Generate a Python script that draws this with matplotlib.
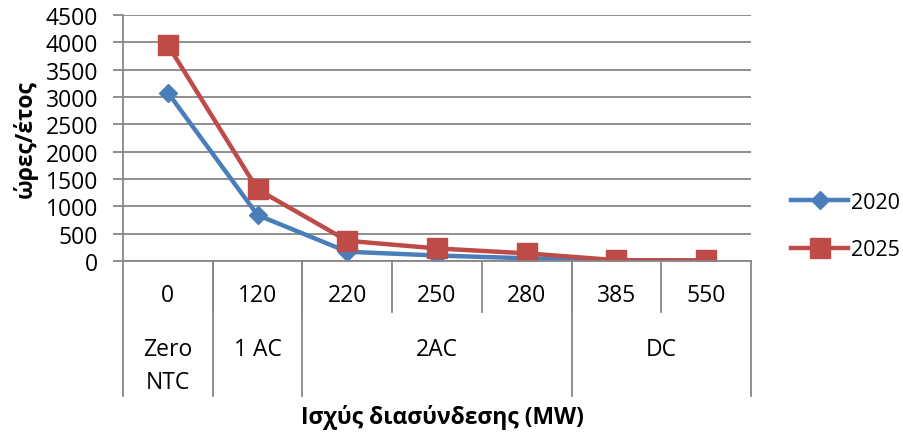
import matplotlib.pyplot as plt
from matplotlib import transforms

plt.rcParams['font.family'] = ['Open Sans', 'DejaVu Sans']

# data
capacities = ['0', '120', '220', '250', '280', '385', '550']
groups = ['Zero\nNTC', '1 AC', '2AC', 'DC']
group_spans = [(0, 0), (1, 1), (2, 4), (5, 6)]
hours_2020 = [3080, 840, 170, 100, 50, 10, 5]
hours_2025 = [3950, 1310, 370, 230, 140, 15, 10]

grid_col = '#878787'
fs = 16.5

fig = plt.figure(figsize=(9.04, 4.35), dpi=100)
ax = fig.add_axes([123 / 904, 1 - 262 / 435, (751 - 123) / 904, (262 - 16) / 435])

x = list(range(len(capacities)))
ax.plot(x, hours_2020, color='#4A7EBB', lw=3.2, marker='D', ms=9.5, label='2020')
ax.plot(x, hours_2025, color='#BE4B48', lw=3.2, marker='s', ms=14, label='2025')

ax.set_xlim(-0.5, len(capacities) - 0.5)
ax.set_ylim(0, 4500)
ax.set_yticks(range(0, 4501, 500))
ax.yaxis.grid(True, color=grid_col, lw=1.3)
ax.set_axisbelow(True)
ax.tick_params(axis='y', length=7, width=1.3, color=grid_col, labelsize=fs, pad=11)
ax.set_xticks([])
for s in ['top', 'right']:
    ax.spines[s].set_visible(False)
for s in ['left', 'bottom']:
    ax.spines[s].set_color(grid_col)
    ax.spines[s].set_linewidth(1.3)

fig.text(25 / 904, 1 - 139 / 435, 'ώρες/έτος', rotation=90, ha='center', va='center',
         fontsize=fs, fontweight='bold')

# multi-level category axis
trans = transforms.blended_transform_factory(ax.transData, ax.transAxes)
h = 246.0


def ay(py):
    return -(py - 262) / h


for i, c in enumerate(capacities):
    ax.text(i, ay(296), c, transform=trans, ha='center', va='center', fontsize=fs)
for b in range(1, len(capacities)):
    ax.plot([b - 0.5, b - 0.5], [0, ay(313)], transform=trans, color=grid_col, lw=1.3, clip_on=False)
edges = sorted({-0.5, len(capacities) - 0.5} | {s - 0.5 for s, e in group_spans})
for b in edges:
    ax.plot([b, b], [0, ay(397)], transform=trans, color=grid_col, lw=1.3, clip_on=False)
for g, (s, e) in zip(groups, group_spans):
    for k, line in enumerate(g.split('\n')):
        ax.text((s + e) / 2, ay(350 + 33 * k), line, transform=trans, ha='center', va='center',
                fontsize=fs)

fig.text(442 / 904, 1 - 418 / 435, 'Ισχύς διασύνδεσης (MW)', ha='center', va='center',
         fontsize=fs, fontweight='bold')

fig.legend(loc='center left', bbox_to_anchor=(772 / 904, 1 - 227 / 435), frameon=False,
           fontsize=15.5, handlelength=2.65, labelspacing=1.25, handletextpad=0.12)

fig.savefig('out.png', dpi=100)
